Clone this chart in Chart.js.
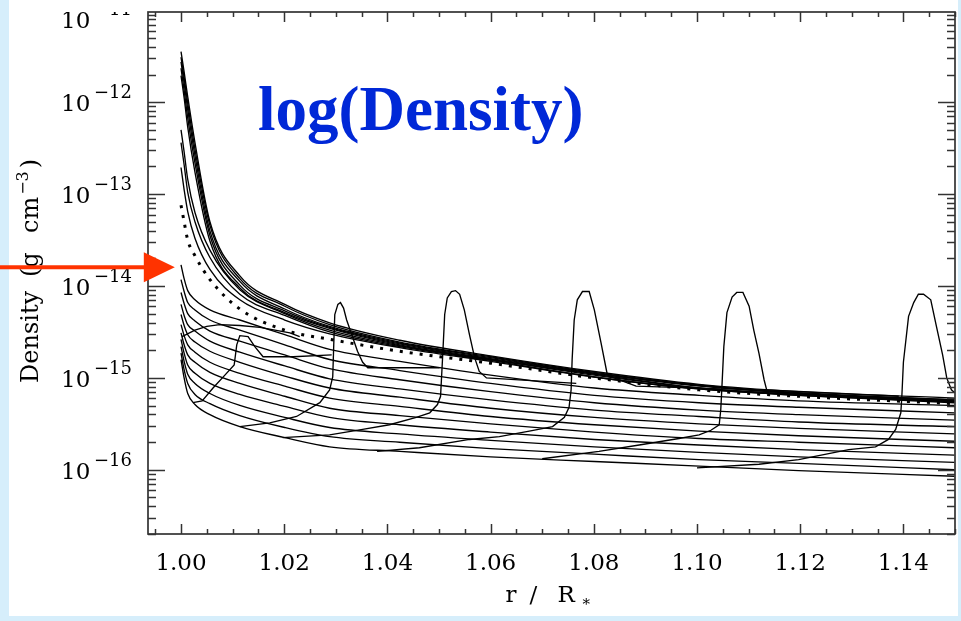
<!DOCTYPE html>
<html>
<head>
<meta charset="utf-8">
<script src="https://cdn.jsdelivr.net/npm/chart.js@4.4.1/dist/chart.umd.min.js"></script>
<style>
  html, body { margin: 0; padding: 0; background: #fff; }
  #wrap { width: 961px; height: 621px; }
</style>
</head>
<body>
<div id="wrap"><canvas id="c" width="961" height="621"></canvas></div>
<script>
// Radius grid (r / R*) shared by the smooth density profiles
const rGrid = [1.0000, 1.0006, 1.0013, 1.0027, 1.0056, 1.0114, 1.0201, 1.0288, 1.0424, 1.0600, 1.0801, 1.1004, 1.1197, 1.1499];

// log10 density (g cm^-3) of the dense inner profiles
const logU1 = [-11.45, -11.67, -11.94, -12.44, -13.30, -13.89, -14.20, -14.40, -14.59, -14.76, -14.93, -15.07, -15.15, -15.22];
const logU2 = [-11.51, -11.73, -12.01, -12.51, -13.34, -13.92, -14.22, -14.42, -14.61, -14.77, -14.94, -15.08, -15.16, -15.24];
const logU3 = [-11.56, -11.79, -12.08, -12.58, -13.40, -13.95, -14.25, -14.44, -14.62, -14.78, -14.95, -15.08, -15.17, -15.24];
const logU4 = [-11.63, -11.87, -12.17, -12.66, -13.45, -13.99, -14.27, -14.45, -14.63, -14.79, -14.95, -15.09, -15.17, -15.25];
const logU5 = [-11.71, -11.95, -12.27, -12.76, -13.51, -14.02, -14.29, -14.46, -14.64, -14.80, -14.96, -15.11, -15.18, -15.25];
const logM1 = [-12.30, -12.54, -12.84, -13.20, -13.61, -14.04, -14.30, -14.48, -14.65, -14.80, -14.97, -15.11, -15.18, -15.26];
const logM2 = [-12.44, -12.68, -12.98, -13.30, -13.69, -14.09, -14.32, -14.50, -14.66, -14.81, -14.99, -15.12, -15.19, -15.26];
const logM3 = [-12.71, -12.95, -13.19, -13.48, -13.82, -14.15, -14.37, -14.52, -14.67, -14.82, -14.99, -15.12, -15.19, -15.27];
const logDotted = [-13.12, -13.30, -13.50, -13.67, -13.93, -14.25, -14.48, -14.58, -14.71, -14.84, -15.00, -15.13, -15.20, -15.28];

// log10 density of the thinner profiles
const logL0  = [-13.77, -13.92, -14.05, -14.15, -14.26, -14.37, -14.53, -14.69, -14.82, -14.97, -15.11, -15.19, -15.25, -15.30];
const logL1  = [-13.93, -14.06, -14.18, -14.26, -14.37, -14.48, -14.64, -14.80, -14.92, -15.06, -15.19, -15.27, -15.32, -15.38];
const logL2  = [-14.07, -14.19, -14.30, -14.38, -14.49, -14.60, -14.75, -14.90, -15.02, -15.15, -15.27, -15.35, -15.40, -15.46];
const logL3  = [-14.20, -14.32, -14.42, -14.49, -14.60, -14.72, -14.87, -15.01, -15.12, -15.24, -15.35, -15.42, -15.48, -15.53];
const logL4  = [-14.31, -14.43, -14.53, -14.61, -14.71, -14.83, -14.98, -15.11, -15.21, -15.33, -15.43, -15.50, -15.55, -15.61];
const logL5  = [-14.42, -14.54, -14.64, -14.72, -14.83, -14.95, -15.09, -15.22, -15.31, -15.42, -15.51, -15.58, -15.63, -15.69];
const logL6  = [-14.51, -14.64, -14.75, -14.83, -14.94, -15.06, -15.20, -15.33, -15.41, -15.50, -15.59, -15.66, -15.70, -15.76];
const logL7  = [-14.58, -14.73, -14.86, -14.95, -15.06, -15.18, -15.31, -15.43, -15.51, -15.59, -15.67, -15.73, -15.78, -15.84];
const logL8  = [-14.66, -14.82, -14.96, -15.06, -15.17, -15.30, -15.43, -15.54, -15.61, -15.68, -15.75, -15.81, -15.86, -15.92];
const logL9  = [-14.73, -14.91, -15.06, -15.18, -15.28, -15.41, -15.54, -15.64, -15.70, -15.77, -15.83, -15.89, -15.93, -16.00];
const logL10 = [-14.80, -15.00, -15.17, -15.29, -15.40, -15.53, -15.65, -15.75, -15.80, -15.86, -15.91, -15.96, -16.01, -16.07];

// Profiles carrying a shock: radii and log10 density
const s0ArcR   = [1.0002, 1.0027, 1.0050, 1.0075, 1.0114, 1.0153, 1.0211, 1.0230];
const s0ArcLog = [-14.55, -14.48, -14.44, -14.42, -14.43, -14.45, -14.51, -14.55];
const s0R   = [1.0023, 1.0041, 1.0062, 1.0085, 1.0103, 1.0108, 1.0114, 1.0130, 1.0143, 1.0159, 1.0217, 1.0292];
const s0Log = [-15.27, -15.25, -15.11, -14.97, -14.86, -14.64, -14.54, -14.55, -14.66, -14.77, -14.77, -14.75];
const s1R   = [1.0114, 1.0172, 1.0224, 1.0269, 1.0288, 1.0294, 1.0296, 1.0298, 1.0304, 1.0309, 1.0315, 1.0321, 1.0331, 1.0342, 1.0352, 1.0362, 1.0501];
const s1Log = [-15.53, -15.49, -15.42, -15.27, -15.13, -14.99, -14.64, -14.31, -14.20, -14.18, -14.24, -14.37, -14.53, -14.71, -14.83, -14.89, -14.89];
const s2R   = [1.0197, 1.0288, 1.0352, 1.0404, 1.0456, 1.0482, 1.0497, 1.0503, 1.0507, 1.0511, 1.0516, 1.0524, 1.0532, 1.0540, 1.0549, 1.0559, 1.0569, 1.0578, 1.0592, 1.0766];
const s2Log = [-15.65, -15.62, -15.56, -15.51, -15.43, -15.38, -15.29, -15.20, -14.77, -14.31, -14.13, -14.06, -14.05, -14.09, -14.26, -14.53, -14.78, -14.93, -15.00, -15.06];
const s3R   = [1.0380, 1.0462, 1.0559, 1.0617, 1.0675, 1.0720, 1.0743, 1.0752, 1.0756, 1.0758, 1.0762, 1.0768, 1.0778, 1.0791, 1.0801, 1.0814, 1.0826, 1.0834, 1.0882, 1.1046];
const s3Log = [-15.80, -15.76, -15.67, -15.64, -15.58, -15.53, -15.43, -15.32, -15.13, -14.80, -14.37, -14.15, -14.06, -14.06, -14.26, -14.62, -14.96, -14.99, -15.09, -15.12];
const s4R   = [1.0700, 1.0810, 1.0888, 1.0965, 1.1004, 1.1027, 1.1043, 1.1046, 1.1048, 1.1052, 1.1058, 1.1068, 1.1077, 1.1089, 1.1101, 1.1110, 1.1120, 1.1130, 1.1135, 1.1391];
const s4Log = [-15.88, -15.80, -15.73, -15.66, -15.62, -15.57, -15.51, -15.35, -15.13, -14.66, -14.29, -14.12, -14.07, -14.07, -14.22, -14.48, -14.73, -15.02, -15.13, -15.20];
const s5R   = [1.1000, 1.1120, 1.1197, 1.1294, 1.1346, 1.1371, 1.1385, 1.1395, 1.1397, 1.1400, 1.1410, 1.1420, 1.1429, 1.1439, 1.1453, 1.1464, 1.1476, 1.1484, 1.1493, 1.1499];
const s5Log = [-15.98, -15.94, -15.89, -15.78, -15.75, -15.67, -15.56, -15.38, -15.20, -14.83, -14.33, -14.18, -14.09, -14.09, -14.15, -14.44, -14.75, -15.00, -15.13, -15.16];

// Axis ticks
const xTickLabels = [1.00, 1.02, 1.04, 1.06, 1.08, 1.10, 1.12, 1.14];
const yDecades = [-16, -15, -14, -13, -12, -11];

const W = 961, H = 621;

function toPoints(rs, logs) {
  return rs.map((r, i) => ({ x: r, y: Math.pow(10, logs[i]) }));
}

const smoothStyle = { borderColor: '#000', borderWidth: 1.35, pointRadius: 0, fill: false, cubicInterpolationMode: 'monotone' };
const sharpStyle  = { borderColor: '#000', borderWidth: 1.35, pointRadius: 0, fill: false, tension: 0 };

const smoothProfiles = [logU1, logU2, logU3, logU4, logU5, logM1, logM2, logM3,
  logL0, logL1, logL2, logL3, logL4, logL5, logL6, logL7, logL8, logL9, logL10];
const shockProfiles = [[s0ArcR, s0ArcLog], [s0R, s0Log], [s1R, s1Log], [s2R, s2Log],
  [s3R, s3Log], [s4R, s4Log], [s5R, s5Log]];

const datasets = [];
smoothProfiles.forEach(l => datasets.push(Object.assign({ data: toPoints(rGrid, l) }, smoothStyle)));
datasets.push(Object.assign({ data: toPoints(rGrid, logDotted) }, smoothStyle,
  { borderWidth: 3, borderDash: [3, 7], borderCapStyle: 'butt' }));
shockProfiles.forEach(([rs, l]) => datasets.push(Object.assign({ data: toPoints(rs, l) }, sharpStyle)));

// Frame, inward ticks, labels, title and the pointer arrow
const decor = {
  id: 'decor',
  beforeDraw(chart) {
    const ctx = chart.ctx;
    ctx.save();
    ctx.fillStyle = '#d6eefb';
    ctx.fillRect(0, 0, W, H);
    ctx.fillStyle = '#ffffff';
    ctx.fillRect(9, 0, 949, 616);
    ctx.restore();
  },
  afterDraw(chart) {
    const ctx = chart.ctx;
    const a = chart.chartArea;
    const xs = chart.scales.x, ys = chart.scales.y;
    ctx.save();
    ctx.strokeStyle = '#333';
    ctx.lineWidth = 1.5;
    const seg = (x1, y1, x2, y2) => { ctx.beginPath(); ctx.moveTo(x1, y1); ctx.lineTo(x2, y2); ctx.stroke(); };

    // x ticks every 0.005, major every 0.02
    for (let k = 0; k < 40; k++) {
      const v = (995 + 5 * k) / 1000;
      if (v > xs.max + 1e-9) break;
      const px = Math.round(xs.getPixelForValue(v)) + 0.5;
      const major = ((5 * k - 5) % 20) === 0;
      const len = major ? 10 : 5;
      seg(px, a.bottom, px, a.bottom - len);
      seg(px, a.top, px, a.top + len);
    }
    // y ticks: decades and 2..9 subdivisions
    for (let n = -17; n <= -11; n++) {
      for (let k = 1; k <= 9; k++) {
        const v = k * Math.pow(10, n);
        if (v < ys.min || v > ys.max) continue;
        const py = Math.round(ys.getPixelForValue(v)) + 0.5;
        const len = k === 1 ? 17 : 8;
        seg(a.left, py, a.left + len, py);
        seg(a.right, py, a.right - len, py);
      }
    }
    ctx.lineWidth = 1.7;
    ctx.strokeRect(a.left, a.top, a.right - a.left, a.bottom - a.top);

    // x tick labels
    ctx.fillStyle = '#000';
    ctx.font = '23px "DejaVu Serif"';
    ctx.textAlign = 'center';
    ctx.textBaseline = 'alphabetic';
    xTickLabels.forEach(v => ctx.fillText(v.toFixed(2), xs.getPixelForValue(v), 570));

    // y tick labels 10^n
    ctx.save();
    ctx.beginPath();
    ctx.rect(0, a.top, W, H - a.top);
    ctx.clip();
    ctx.textAlign = 'left';
    yDecades.forEach(n => {
      const py = Math.max(ys.getPixelForValue(Math.pow(10, n)), a.top + 7);
      ctx.font = '23px "DejaVu Serif"';
      ctx.fillText('10', 61, py + 9);
      ctx.font = '18px "DejaVu Serif"';
      ctx.fillText('\u2212' + (-n), 94, py - 4);
    });
    ctx.restore();

    // y axis title
    ctx.save();
    ctx.translate(38, 383);
    ctx.rotate(-Math.PI / 2);
    ctx.textAlign = 'left';
    ctx.font = '24px "DejaVu Serif"';
    ctx.fillText('Density', 0, 0);
    ctx.fillText('(g', 106, 0);
    ctx.fillText('cm', 150, 0);
    const cmEnd = 150 + ctx.measureText('cm').width;
    ctx.font = '16px "DejaVu Serif"';
    ctx.fillText('\u22123', cmEnd + 2, -10);
    const supEnd = cmEnd + 2 + ctx.measureText('\u22123').width;
    ctx.font = '24px "DejaVu Serif"';
    ctx.fillText(')', supEnd + 3, 0);
    ctx.restore();

    // x axis title
    const cx = (a.left + a.right) / 2;
    ctx.font = '23px "DejaVu Serif"';
    ctx.textAlign = 'left';
    ctx.fillText('r', cx - 46, 602);
    ctx.fillText('/', cx - 22, 602);
    ctx.fillText('R', cx + 6, 602);
    ctx.font = '15px "DejaVu Serif"';
    ctx.fillText('*', cx + 31, 609);

    // chart title
    ctx.fillStyle = '#0028d7';
    ctx.font = 'bold 63px "Liberation Serif"';
    ctx.fillText('log(Density)', 258, 130);

    // red pointer arrow at the inner boundary
    const tipX = xs.getPixelForValue(0.9988);
    const tipY = ys.getPixelForValue(1.6e-14);
    ctx.fillStyle = '#ff3300';
    ctx.fillRect(0, tipY - 2, tipX - 28, 4);
    ctx.beginPath();
    ctx.moveTo(tipX, tipY);
    ctx.lineTo(tipX - 31, tipY - 15);
    ctx.lineTo(tipX - 31, tipY + 15);
    ctx.closePath();
    ctx.fill();
    ctx.restore();
  }
};

new Chart(document.getElementById('c'), {
  type: 'line',
  data: { datasets },
  options: {
    responsive: false,
    animation: false,
    layout: { padding: { top: 12, right: 6, left: 0, bottom: 0 } },
    plugins: { legend: { display: false }, tooltip: { enabled: false } },
    scales: {
      x: {
        type: 'linear', min: 0.9936, max: 1.15,
        ticks: { display: false }, grid: { display: false, drawTicks: false }, border: { display: false },
        afterFit(s) { s.height = 87; }
      },
      y: {
        type: 'logarithmic', min: 2e-17, max: 9.6e-12,
        ticks: { display: false }, grid: { display: false, drawTicks: false }, border: { display: false },
        afterFit(s) { s.width = 148; }
      }
    }
  },
  plugins: [decor]
});
</script>
</body>
</html>
